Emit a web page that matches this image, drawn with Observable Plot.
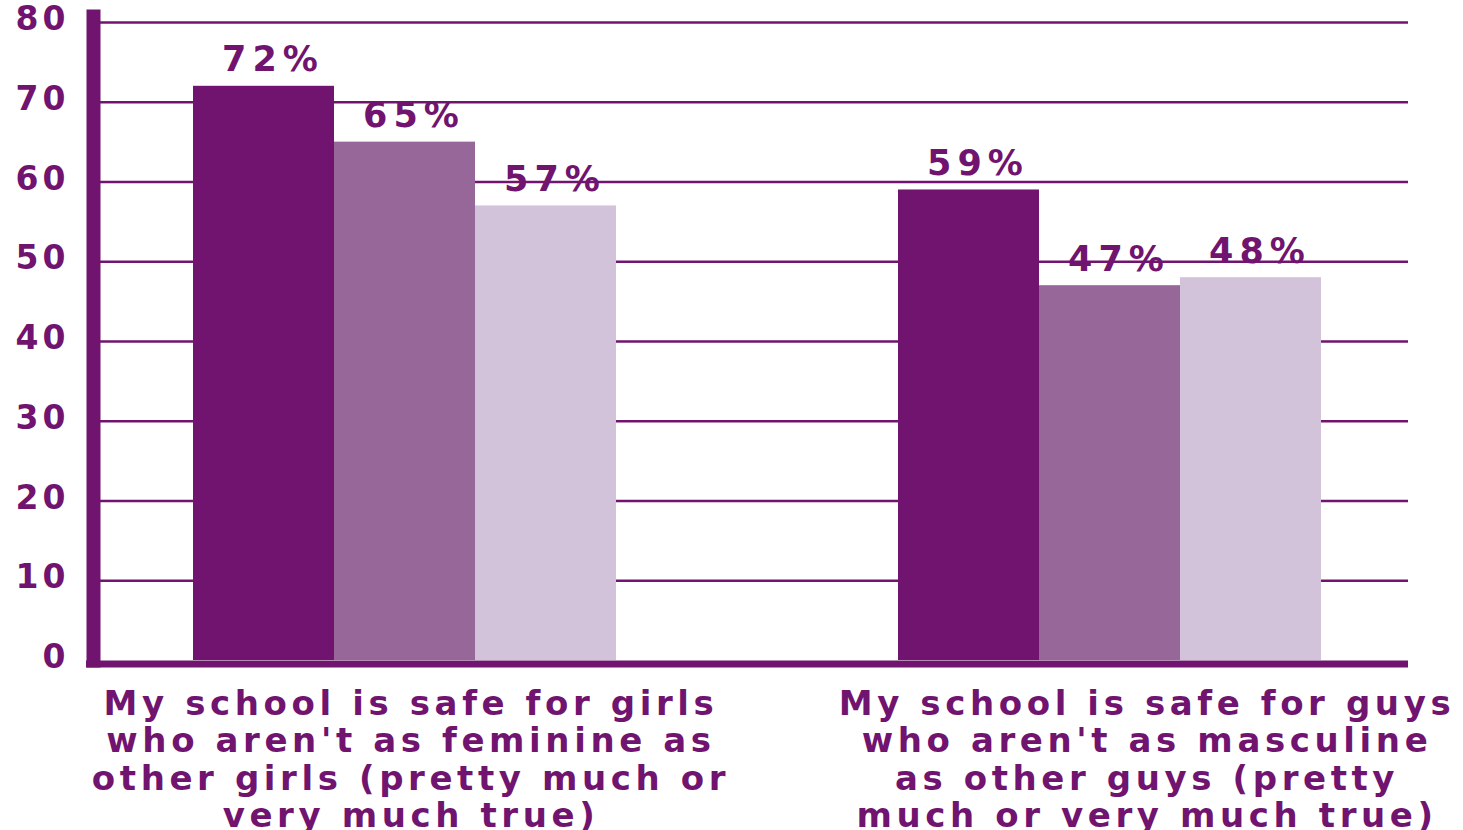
<!DOCTYPE html>
<html>
<head>
<meta charset="utf-8">
<script src="https://cdn.jsdelivr.net/npm/d3@7"></script>
<script src="https://cdn.jsdelivr.net/npm/@observablehq/plot@0.6"></script>
<style>
  html, body { margin: 0; padding: 0; background: #fff; }
  #chart svg { display: block; }
</style>
</head>
<body>
<div id="chart"></div>
<script>
const groups = [
  "My school is safe for girls who aren't as feminine as other girls (pretty much or very much true)",
  "My school is safe for guys who aren't as masculine as other guys (pretty much or very much true)"
];
const groupLabels = [
  "My school is safe for girls\nwho aren't as feminine as\nother girls (pretty much or\nvery much true)",
  "My school is safe for guys\nwho aren't as masculine\nas other guys (pretty\nmuch or very much true)"
];
const series = ["Series 1", "Series 2", "Series 3"];
const series1Values = [72, 59];
const series2Values = [65, 47];
const series3Values = [57, 48];
const yTicks = [0, 10, 20, 30, 40, 50, 60, 70, 80];
const gridValues = [10, 20, 30, 40, 50, 60, 70, 80];
const colors = ["#70146f", "#98679a", "#d2c3da"];
const ink = "#70146f";

const seriesValues = [series1Values, series2Values, series3Values];
const data = [];
groups.forEach((g, gi) => {
  series.forEach((s, si) => {
    data.push({group: g, series: s, value: seriesValues[si][gi]});
  });
});
const labelData = groups.map((g, i) => ({group: g, label: groupLabels[i]}));
const firstGroup = () => groups[0];

const chart = Plot.plot({
  width: 1463,
  height: 830,
  marginLeft: 93,
  marginRight: 55,
  marginTop: 22,
  marginBottom: 170,
  style: {fontFamily: "'DejaVu Sans', sans-serif", background: "#fff"},
  fx: {domain: groups, paddingInner: 0.4, paddingOuter: 0.1326, align: 0.535, axis: null, label: null},
  x: {domain: series, padding: 0, axis: null, label: null},
  y: {domain: [0, 80], axis: null, label: null},
  color: {domain: series, range: colors},
  marks: [
    // gridlines: pinned to first panel, stretched across the whole frame
    Plot.ruleY(gridValues, {fx: firstGroup, y: d => d, stroke: ink, strokeWidth: 2.5, insetLeft: -100, insetRight: -792}),
    // baseline
    Plot.ruleY([0], {fx: firstGroup, y: d => d, stroke: ink, strokeWidth: 7, dy: 3.5, insetLeft: -107, insetRight: -792}),
    // y tick labels
    Plot.text(yTicks, {
      fx: firstGroup, y: d => d, text: d => String(d),
      frameAnchor: "left", textAnchor: "end", dx: -124, dy: -3,
      fill: ink, fontSize: 33, fontWeight: "bold",
      className: "ytick"
    }),
    Plot.barY(data, {fx: "group", x: "series", y: "value", fill: "series"}),
    Plot.text(data, {
      fx: "group", x: "series", y: "value",
      text: d => d.value + "%",
      lineAnchor: "bottom", dy: -15, dx: 9,
      fill: ink, fontSize: 35, fontWeight: "bold",
      className: "vlabel"
    }),
    Plot.frame({anchor: "left", stroke: ink, strokeWidth: 14, insetLeft: -100, insetTop: -6, insetBottom: 0, facet: "super"}),
    Plot.text(labelData.slice(0, 1), {
      fx: "group", text: "label",
      frameAnchor: "bottom", lineAnchor: "top", dy: 28, dx: 6,
      lineHeight: 1.1, fill: ink, fontSize: 34, fontWeight: "bold",
      className: "xlabel"
    }),
    Plot.text(labelData.slice(1, 2), {
      fx: "group", text: "label",
      frameAnchor: "bottom", lineAnchor: "top", dy: 28, dx: 37,
      lineHeight: 1.1, fill: ink, fontSize: 34, fontWeight: "bold",
      className: "xlabel"
    })
  ]
});
// letter spacing applied through the SVG's text styling
const spacing = {ytick: "4px", vlabel: "6px", xlabel: "4.6px"};
Object.entries(spacing).forEach(([cls, ls]) => {
  chart.querySelectorAll("." + cls + " text").forEach(t => { t.style.letterSpacing = ls; });
  chart.querySelectorAll("text." + cls).forEach(t => { t.style.letterSpacing = ls; });
});
document.getElementById("chart").appendChild(chart);
</script>
</body>
</html>
